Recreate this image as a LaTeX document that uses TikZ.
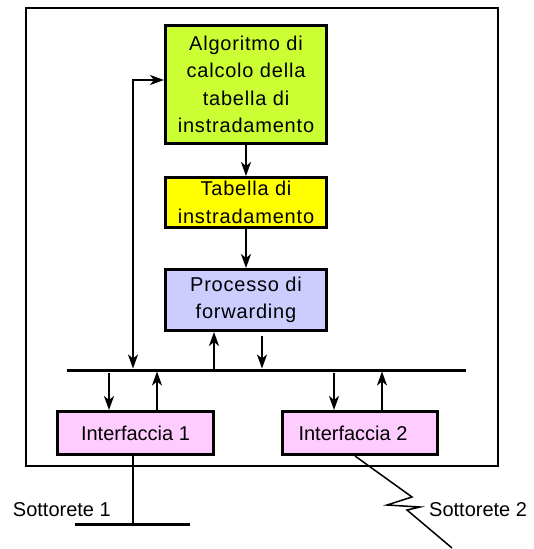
\documentclass[tikz,border=0pt]{standalone}
\usepackage{fontspec}
\setmainfont{Liberation Sans}
\newfontfamily\largo[LetterSpace=4]{Liberation Sans}
\usetikzlibrary{arrows.meta}
\definecolor{verdeAlg}{RGB}{204,255,51}
\definecolor{gialloTab}{RGB}{255,255,0}
\definecolor{bluProc}{RGB}{204,204,255}
\definecolor{rosaInt}{RGB}{255,204,255}
\tikzset{
  blocco/.style={draw, line width=3pt, align=center, inner sep=0pt,
    font=\fontsize{20}{27.5}\selectfont},
  freccia/.style={-{Stealth[length=14pt,width=10pt,inset=4pt]}, line width=2pt},
  doppia/.style={{Stealth[length=14pt,width=10pt,inset=4pt]}-{Stealth[length=14pt,width=10pt,inset=4pt]}, line width=2pt},
  etichetta/.style={inner sep=0pt, font=\fontsize{20}{24}\selectfont}
}
\begin{document}
\begin{tikzpicture}[x=1pt,y=-1pt]
\useasboundingbox (0,0) rectangle (534,549) ;
\draw [line width=1.5pt] (26,8) rectangle (498,466) ;
\node [blocco, fill=verdeAlg, minimum width=161, minimum height=118] (algoritmo) at (246,84.5)
  {\largo Algoritmo di\\\largo calcolo della\\\largo tabella di\\\largo instradamento} ;
\node [blocco, fill=gialloTab, minimum width=161, minimum height=50] (tabella) at (246,202.5)
  {\largo Tabella di\\\largo instradamento} ;
\node [blocco, fill=bluProc, minimum width=161, minimum height=61] (processo) at (246,300)
  {\largo Processo di\\\largo forwarding} ;
\node [blocco, fill=rosaInt, minimum width=156, minimum height=43] (int1) at (135.5,433) {Interfaccia 1} ;
\node [blocco, fill=rosaInt, minimum width=155, minimum height=43] (int2) at (360,433) {Interfaccia 2\hspace{14pt}} ;
\draw [freccia] (algoritmo.south) -- (tabella.north) ;
\draw [freccia] (tabella.south) -- (processo.north) ;
\coordinate (busL) at (67,370) ;
\coordinate (busR) at (466,370) ;
\draw [line width=3pt] (busL) -- (busR) ;
\coordinate (giro) at (133,370) ;
\draw [doppia] ([yshift=1.5pt]giro) |- ([yshift=4.5pt]algoritmo.west) ;
\coordinate (su) at (214,370) ;
\coordinate (giu) at (262,370) ;
\draw [freccia] (su) -- (su |- processo.south) ;
\draw [freccia, shorten <=4pt, shorten >=1.5pt] (giu |- processo.south) -- (giu) ;
\coordinate (a1) at (109,370) ;
\coordinate (a2) at (157,370) ;
\coordinate (b1) at (334,370) ;
\coordinate (b2) at (382,370) ;
\draw [freccia, shorten <=3pt] (a1) -- (a1 |- int1.north) ;
\draw [freccia, shorten >=1.5pt] (a2 |- int1.north) -- (a2) ;
\draw [freccia, shorten <=3pt] (b1) -- (b1 |- int2.north) ;
\draw [freccia, shorten >=1.5pt] (b2 |- int2.north) -- (b2) ;
\coordinate (s1) at (133,524) ;
\draw [line width=1.5pt] (s1 |- int1.south) -- (s1) ;
\draw [line width=3pt] (75,524) -- (190,524) ;
\coordinate (z0) at (355,454) ;
\draw [line width=1.5pt] (z0 |- int2.south) -- (412,497) -- (387,505) -- (420,507) -- (407,510) -- (452,548) ;
\node [etichetta, anchor=east] (sott1) at (111,510) {Sottorete 1} ;
\node [etichetta, anchor=west] (sott2) at (429,510) {Sottorete 2} ;
\end{tikzpicture}
\end{document}
